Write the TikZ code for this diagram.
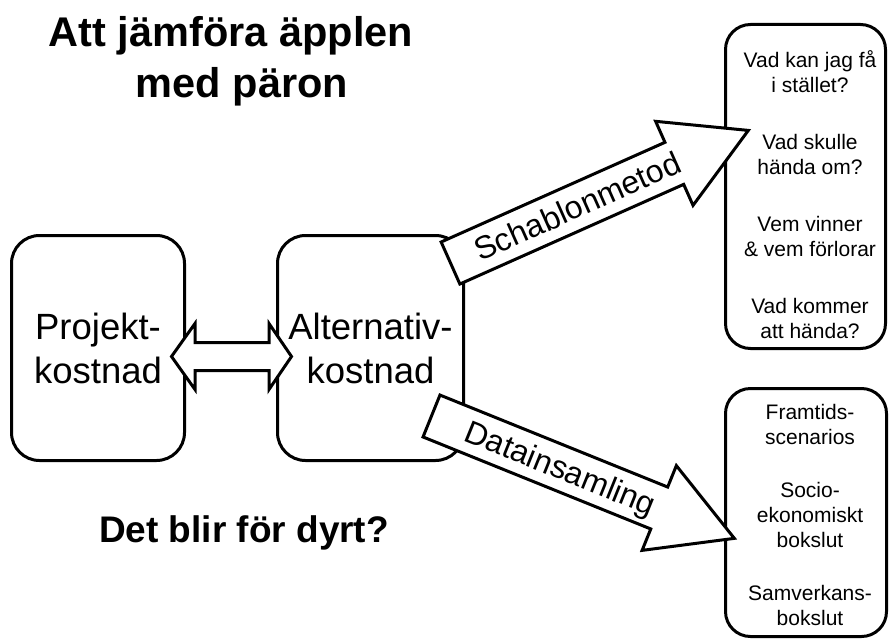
\documentclass[tikz,border=0pt]{standalone}
\usepackage{fontspec}
\setmainfont{Liberation Sans}
\begin{document}
\begin{tikzpicture}[x=1pt,y=-1pt,line width=3pt,
  box/.style={draw,rounded corners=28pt,align=center,inner sep=0pt},
  qbox/.style={draw,rounded corners=25pt,inner sep=0pt},
  qtext/.style={align=center,inner sep=0pt,font=\fontsize{21}{25}\selectfont},
  boxtext/.style={font=\fontsize{36.5}{44}\selectfont},
  arrowtext/.style={font=\fontsize{32}{36}\selectfont,anchor=base,inner sep=0pt},
  blockarrow/.style={draw,fill=white,line join=miter},
  titletext/.style={font=\fontsize{41.5}{48}\selectfont\bfseries,anchor=base,inner sep=0pt}]
\fill[white] (0,0) rectangle (890,642);
\useasboundingbox (0,0) rectangle (890,642);

% title
\node[titletext] (t1) at (231,47) {Att jämföra äpplen};
\node[titletext] (t2) at (242,97) {med päron};

% boxes
\node[box,boxtext,minimum width=173pt,minimum height=225pt] (proj) at (98,348) {Projekt-\\kostnad};
\node[box,boxtext,minimum width=186pt,minimum height=225pt] (alt) at (370.5,348) {Alternativ-\\kostnad};

\node[qbox,minimum width=160pt,minimum height=324pt] (q1) at (805.5,186.5) {};
\node[qtext] (q1t) at (810,195)
  {Vad kan jag få\\i stället?\\[32pt]Vad skulle\\hända om?\\[32pt]Vem vinner\\\& vem förlorar\\[32pt]Vad kommer\\att hända?};
\node[qbox,minimum width=161pt,minimum height=248pt] (q2) at (806,512.5) {};
\node[qtext] (q2t) at (810,515)
  {Framtids-\\scenarios\\[28pt]Socio-\\ekonomiskt\\bokslut\\[28pt]Samverkans-\\bokslut};

% double arrow between the two cost boxes
\coordinate (dm) at (231.5,356.5);
\begin{scope}[shift={(dm)}]
\draw[blockarrow] (-60,0) -- (-36.5,-33) -- (-36.5,-14) -- (37.5,-14) -- (37.5,-33)
  -- (60,0) -- (37.5,33) -- (37.5,14) -- (-36.5,14) -- (-36.5,33) -- cycle;
\end{scope}

% Schablonmetod arrow
\coordinate (s0) at (450.5,263);
\begin{scope}[shift={(s0)},rotate=24]
\draw[blockarrow] (0,-23) -- (245,-23) -- (245,-46) -- (326,0) -- (245,46) -- (245,23) -- (0,23) -- cycle;
\node[arrowtext,rotate=24] (schab) at (139,11) {Schablonmetod};
\end{scope}

% Datainsamling arrow
\coordinate (d0) at (431.5,416);
\begin{scope}[shift={(d0)},rotate=-22]
\draw[blockarrow] (0,-22.6) -- (245.6,-22.6) -- (245.6,-45.7) -- (326.6,0) -- (245.6,45.7) -- (245.6,22.6) -- (0,22.6) -- cycle;
\node[arrowtext,rotate=-22] (data) at (139,11) {Datainsamling};
\end{scope}

% bottom question
\node[titletext,font=\fontsize{37}{44}\selectfont\bfseries] (dyrt) at (244,542) {Det blir för dyrt?};
\end{tikzpicture}
\end{document}
